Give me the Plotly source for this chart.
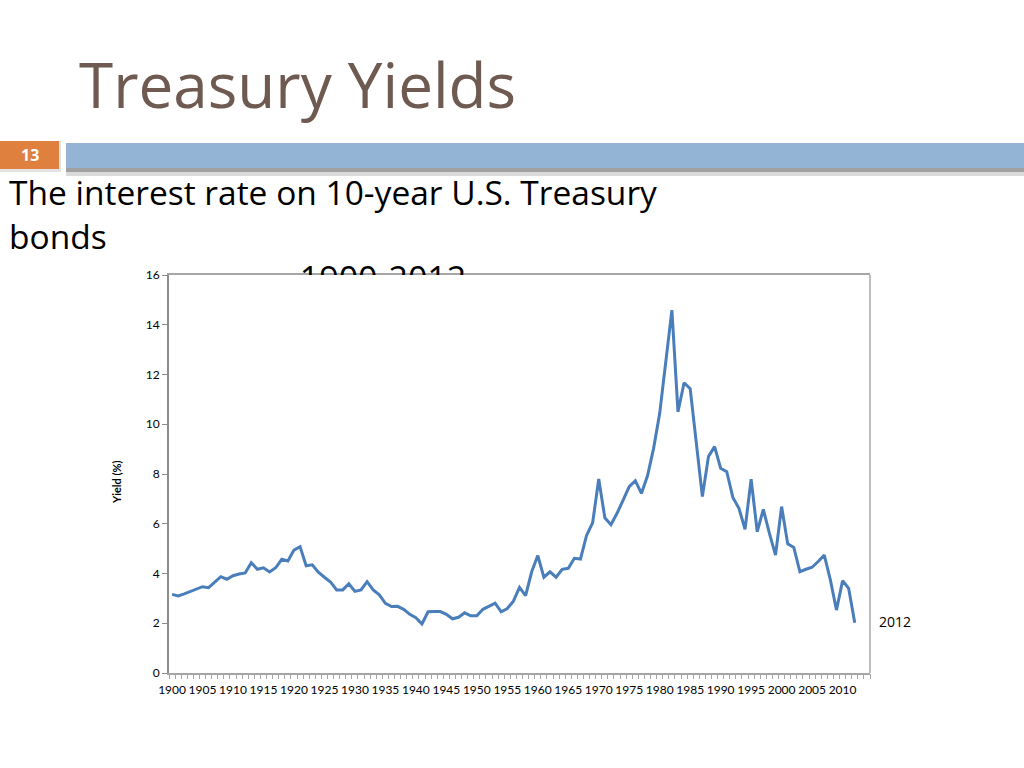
import plotly.graph_objects as go

# 10-year U.S. Treasury yield, annual
years = list(range(1900, 2013))
yields = [
    3.16, 3.10, 3.18, 3.28, 3.39, 3.47, 3.43, 3.64, 3.87, 3.77,  # 1900s
    3.91, 3.98, 4.02, 4.43, 4.17, 4.23, 4.06, 4.23, 4.57, 4.50,  # 1910s
    4.94, 5.08, 4.31, 4.35, 4.05, 3.85, 3.66, 3.34, 3.34, 3.59,  # 1920s
    3.28, 3.34, 3.67, 3.34, 3.14, 2.80, 2.67, 2.68, 2.56, 2.36,  # 1930s
    2.22, 1.97, 2.46, 2.47, 2.47, 2.36, 2.18, 2.24, 2.42, 2.30,  # 1940s
    2.30, 2.56, 2.67, 2.81, 2.46, 2.59, 2.89, 3.44, 3.11, 4.07,  # 1950s
    4.72, 3.85, 4.07, 3.85, 4.17, 4.21, 4.61, 4.58, 5.53, 6.04,  # 1960s
    7.80, 6.24, 5.96, 6.42, 6.95, 7.49, 7.73, 7.22, 7.93, 9.03,  # 1970s
    10.44, 12.45, 14.59, 10.50, 11.67, 11.43, 9.23, 7.09, 8.70, 9.10,  # 1980s
    8.23, 8.09, 7.06, 6.62, 5.78, 7.79, 5.68, 6.58, 5.61, 4.74,  # 1990s
    6.69, 5.19, 5.05, 4.07, 4.17, 4.25, 4.48, 4.74, 3.74, 2.53,  # 2000s
    3.71, 3.40, 2.02,  # 2010-2012
]
label_years = list(range(1900, 2011, 5))
y_ticks = [0, 2, 4, 6, 8, 10, 12, 14, 16]
# category boundaries of the Excel axis (ticks sit between the years)
year_edges = [y - 0.5 for y in range(1900, 2016)]

W, H = 1024, 768


def px(x):
    return x / W


def py(y):
    return (H - y) / H


fig = go.Figure()

fig.add_trace(go.Scatter(
    x=years, y=yields, mode="lines",
    line=dict(color="#4a7ebb", width=3),
    showlegend=False, hoverinfo="skip",
))

# invisible copy so the tick-mark axis gets drawn
fig.add_trace(go.Scatter(
    x=years, y=yields, mode="lines", xaxis="x3", yaxis="y",
    line=dict(color="rgba(0,0,0,0)", width=0),
    showlegend=False, hoverinfo="skip",
))

# the "1900-2012" subtitle that sits half hidden behind the chart
fig.add_trace(go.Scatter(
    x=[383], y=[275 - 282], mode="text", text=["1900-2012"],
    textfont=dict(family="Open Sans", size=34, color="#000000"),
    xaxis="x2", yaxis="y2", cliponaxis=True,
    showlegend=False, hoverinfo="skip",
))

shapes = [
    # orange slide number box
    dict(type="rect", xref="paper", yref="paper",
         x0=px(0), x1=px(61), y0=py(172), y1=py(141),
         fillcolor="#c8c8c8", line_width=0, opacity=0.5),
    dict(type="rect", xref="paper", yref="paper",
         x0=px(0), x1=px(59), y0=py(169), y1=py(141),
         fillcolor="#e0803f", line_width=0),
    # blue header bar with a soft grey shadow
    dict(type="rect", xref="paper", yref="paper",
         x0=px(66), x1=px(1024), y0=py(176), y1=py(143),
         fillcolor="#dadada", line_width=0),
    dict(type="rect", xref="paper", yref="paper",
         x0=px(66), x1=px(1024), y0=py(172), y1=py(143),
         fillcolor="#a0a0a0", line_width=0),
    dict(type="rect", xref="paper", yref="paper",
         x0=px(66), x1=px(1024), y0=py(168), y1=py(143),
         fillcolor="#93b4d4", line_width=0),
    # right-hand frame of the plot area
    dict(type="line", xref="paper", yref="paper",
         x0=px(870), x1=px(870), y0=py(673), y1=py(275),
         line=dict(color="#a6a6a6", width=1.5)),
]

annotations = [
    dict(text="Treasury Yields", x=px(77), y=py(84), xref="paper", yref="paper",
         xanchor="left", yanchor="middle", showarrow=False,
         font=dict(family="Open Sans", size=62, color="#6e5a50")),
    dict(text="<b>13</b>", x=px(30), y=py(155), xref="paper", yref="paper",
         xanchor="center", yanchor="middle", showarrow=False,
         font=dict(family="Open Sans", size=16, color="#ffffff")),
    dict(text="The interest rate on 10-year U.S. Treasury<br>bonds",
         x=px(7), y=py(214), xref="paper", yref="paper",
         xanchor="left", yanchor="middle", align="left", showarrow=False,
         font=dict(family="Open Sans", size=33.5, color="#000000")),
    dict(text="<b>Yield (%)</b>", x=px(116), y=py(482), xref="paper", yref="paper",
         xanchor="center", yanchor="middle", showarrow=False, textangle=-90,
         font=dict(family="Lato", size=11, color="#000000")),
    dict(text="2012", x=px(877), y=py(621), xref="paper", yref="paper",
         xanchor="left", yanchor="middle", showarrow=False,
         font=dict(family="Open Sans", size=14, color="#000000")),
]

fig.update_layout(
    template="none",
    width=W, height=H,
    margin=dict(l=0, r=0, t=0, b=0),
    paper_bgcolor="#ffffff",
    plot_bgcolor="rgba(0,0,0,0)",
    showlegend=False,
    shapes=shapes,
    annotations=annotations,
    # year labels every fifth category, plot frame
    xaxis=dict(
        domain=[px(169), px(870)],
        range=[1899.5, 2014.5],
        tickmode="array", tickvals=label_years,
        ticks="outside", ticklen=5, tickcolor="rgba(0,0,0,0)",
        tickfont=dict(family="Lato", size=12, color="#000000"),
        showgrid=False, zeroline=False,
        showline=True, linecolor="#a6a6a6", linewidth=1.5, mirror=True,
        automargin=False,
    ),
    # tick marks between the categories, no labels
    xaxis3=dict(
        domain=[px(169), px(870)],
        range=[1899.5, 2014.5],
        overlaying="x", anchor="y", side="bottom",
        tickmode="array", tickvals=year_edges, showticklabels=False,
        ticks="outside", ticklen=5, tickcolor="#a6a6a6",
        showgrid=False, zeroline=False, showline=False,
        automargin=False,
    ),
    yaxis=dict(
        domain=[py(673), py(275)],
        range=[0, 16],
        tickmode="array", tickvals=y_ticks,
        ticks="outside", ticklen=5, tickcolor="#8c8c8c",
        tickfont=dict(family="Lato", size=12, color="#000000"),
        showgrid=False, zeroline=False,
        showline=True, linecolor="#8c8c8c", linewidth=2, mirror=False,
        automargin=False,
    ),
    xaxis2=dict(
        domain=[px(169), px(870)], range=[169, 870], anchor="y2",
        visible=False, fixedrange=True,
    ),
    yaxis2=dict(
        domain=[py(275), 1], range=[0, 275], anchor="x2",
        visible=False, fixedrange=True,
    ),
)

fig.write_html("out.html", config={"displayModeBar": False},
               post_script="document.body.style.margin='0px';")
